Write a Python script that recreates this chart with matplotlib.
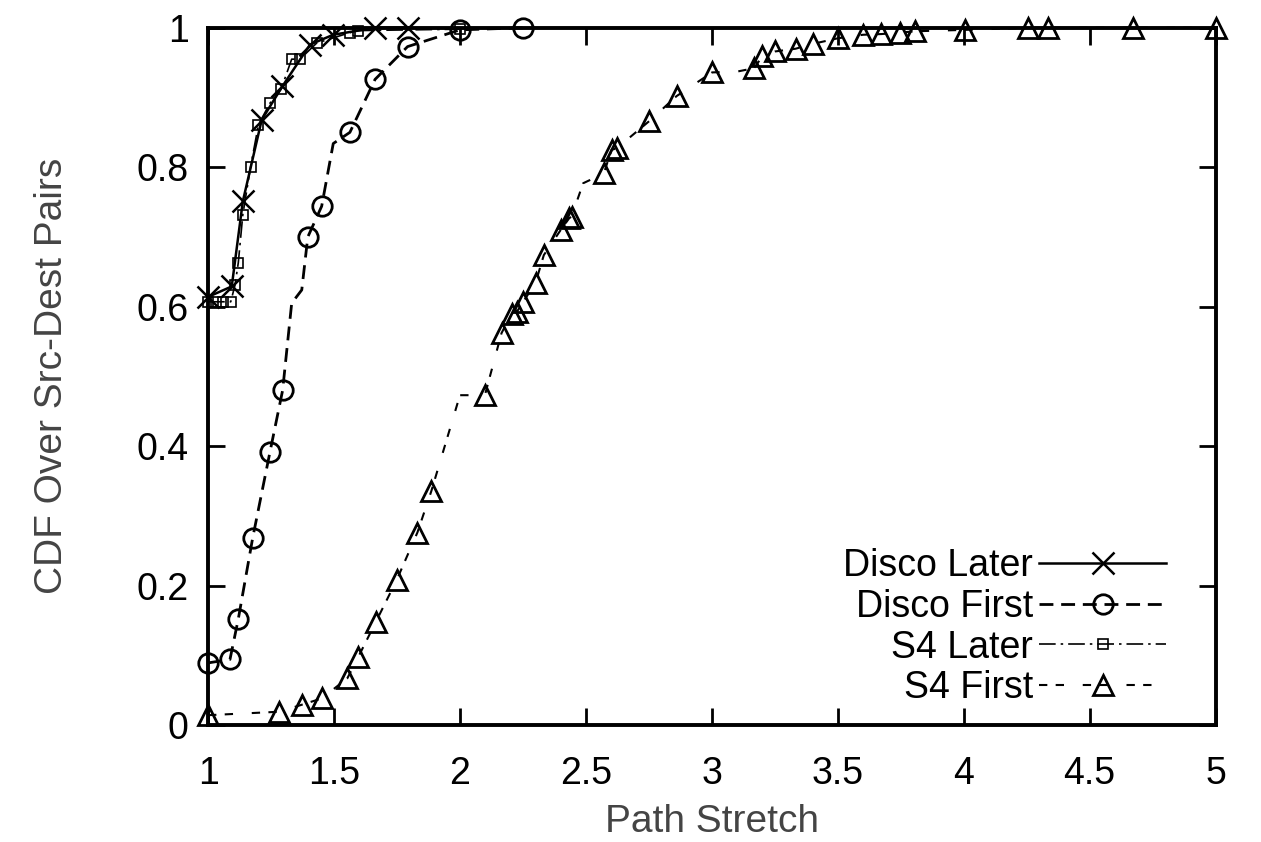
import numpy as np
import matplotlib.pyplot as plt

plt.rcParams['font.family'] = ['Liberation Sans', 'DejaVu Sans']

# Disco Later (x markers, solid)
dl_x = [1.0, 1.094, 1.138, 1.213, 1.295, 1.405, 1.497, 1.663, 1.795]
dl_y = [0.614, 0.629, 0.751, 0.868, 0.916, 0.976, 0.990, 1.0, 1.0]

# Disco First (circles, dashed); some vertices carry no marker
df_x = [1.0, 1.087, 1.12, 1.177, 1.246, 1.296, 1.332, 1.372, 1.396, 1.451,
        1.497, 1.563, 1.663, 1.792, 2.0, 2.249]
df_y = [0.089, 0.094, 0.152, 0.268, 0.392, 0.480, 0.605, 0.624, 0.700, 0.744,
        0.834, 0.850, 0.926, 0.973, 0.997, 1.0]
df_nomark = [6, 7, 10]

# S4 Later (small squares, dash-dot)
sl_x = [1.0, 1.03, 1.06, 1.09, 1.107, 1.12, 1.138, 1.169, 1.2, 1.246, 1.29,
        1.332, 1.365, 1.431, 1.563, 1.597, 2.0]
sl_y = [0.607, 0.607, 0.607, 0.607, 0.631, 0.663, 0.732, 0.801, 0.861, 0.892,
        0.912, 0.955, 0.955, 0.978, 0.993, 0.996, 0.998]

# S4 First (triangles, short dashes)
sf_x = [1.0, 1.283, 1.372, 1.451, 1.553, 1.597, 1.665, 1.749, 1.831, 1.886,
        2.0, 2.099, 2.165, 2.205, 2.225, 2.251, 2.3, 2.333, 2.4, 2.434,
        2.443, 2.489, 2.571, 2.602, 2.622, 2.751, 2.86, 3.001, 3.098, 3.167,
        3.201, 3.25, 3.333, 3.402, 3.501, 3.60, 3.673, 3.746, 3.806, 4.004,
        4.255, 4.334, 4.672, 5.0]
sf_y = [0.014, 0.019, 0.029, 0.038, 0.067, 0.098, 0.147, 0.208, 0.276, 0.335,
        0.473, 0.473, 0.562, 0.590, 0.592, 0.607, 0.634, 0.674, 0.710, 0.727,
        0.729, 0.777, 0.791, 0.825, 0.827, 0.866, 0.902, 0.936, 0.937, 0.942,
        0.959, 0.966, 0.970, 0.977, 0.985, 0.990, 0.991, 0.993, 0.995, 0.997,
        1.0, 1.0, 1.0, 1.0]
sf_nomark = [10, 21, 28]

xticks = [1, 1.5, 2, 2.5, 3, 3.5, 4, 4.5, 5]
xticklabels = ['1', '1.5', '2', '2.5', '3', '3.5', '4', '4.5', '5']
yticks = [0, 0.2, 0.4, 0.6, 0.8, 1]
yticklabels = ['0', '0.2', '0.4', '0.6', '0.8', '1']


def keep(n, skip):
    return [i for i in range(n) if i not in skip]


fig = plt.figure(figsize=(12.61, 8.42), dpi=100)
ax = fig.add_axes([0.165, 0.139, 0.799, 0.828])

ax.plot(dl_x, dl_y, color='black', lw=1.8, marker='x', ms=16, mew=1.8,
        label='Disco Later', clip_on=False, zorder=4)
ax.plot(df_x, df_y, color='black', lw=2.0, dashes=(5, 2.8), marker='o', ms=14,
        mfc='none', mew=2.0, markevery=keep(len(df_x), df_nomark),
        label='Disco First', clip_on=False, zorder=3)
ax.plot(sl_x, sl_y, color='black', lw=1.2, dashes=(10, 3, 1.5, 3),
        marker='s', ms=7, mfc='none', mew=1.2,
        label='S4 Later', clip_on=False, zorder=5)
ax.plot(sf_x, sf_y, color='black', lw=1.5, dashes=(4, 4, 4, 9),
        marker='^', ms=14, mfc='none', mew=2.0,
        markevery=keep(len(sf_x), sf_nomark),
        label='S4 First', clip_on=False, zorder=3)

ax.set_xlim(1, 5)
ax.set_ylim(0, 1)
ax.set_xticks(xticks)
ax.set_xticklabels(xticklabels)
ax.set_yticks(yticks)
ax.set_yticklabels(yticklabels)
ax.tick_params(direction='in', length=12, width=2, labelsize=27,
               top=True, right=True)
ax.tick_params(axis='x', pad=22)
ax.tick_params(axis='y', pad=14)
for sp in ax.spines.values():
    sp.set_linewidth(2.8)

ax.set_xlabel('Path Stretch', fontsize=28, color='#444444', labelpad=9)
ax.set_ylabel('CDF Over Src-Dest Pairs', fontsize=28, color='#444444', labelpad=48)

ax.legend(loc='lower right', frameon=False, fontsize=27, markerfirst=False,
          handlelength=3.4, handletextpad=0.15, labelspacing=0.13,
          borderaxespad=0, bbox_to_anchor=(0.966, 0.005))

fig.savefig('out.png', dpi=100)
